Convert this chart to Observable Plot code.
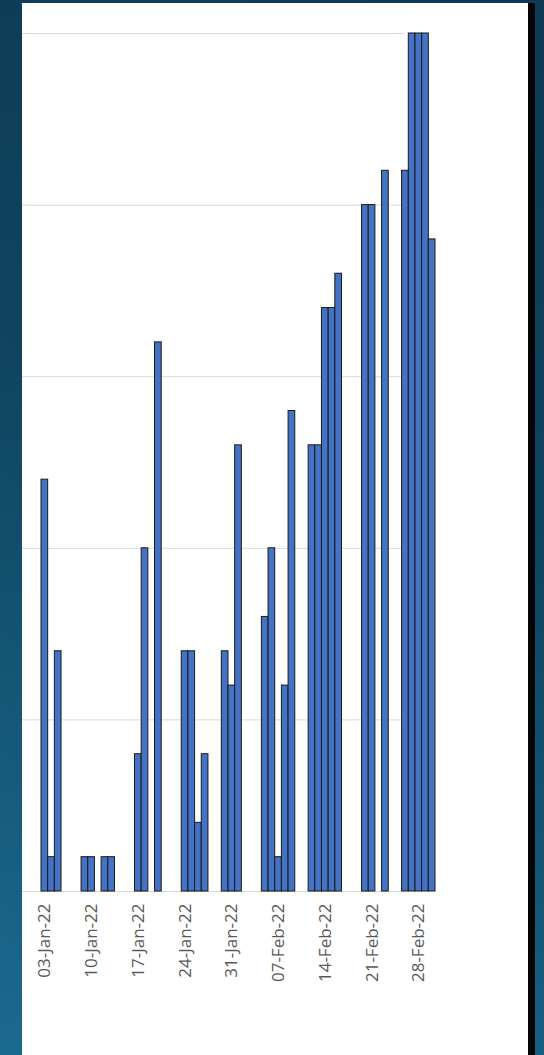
<!DOCTYPE html>
<html>
<head>
<meta charset="utf-8">
<script src="https://cdn.jsdelivr.net/npm/d3@7"></script>
<script src="https://cdn.jsdelivr.net/npm/@observablehq/plot@0.6"></script>
<style>
  html, body { margin: 0; padding: 0; }
  body {
    width: 544px; height: 1055px; overflow: hidden; position: relative;
    background: linear-gradient(200deg, #0d3a52 0%, #0f4560 45%, #1b6a90 100%);
  }
  #panel {
    position: absolute; left: 22px; top: 3px; width: 506px; height: 1052px;
    background: #ffffff;
  }
  #edge {
    position: absolute; left: 528px; top: 3px; width: 7px; height: 1052px;
    background: #050505;
  }
  #panel svg { display: block; }
</style>
</head>
<body>
<div id="panel"></div>
<div id="edge"></div>
<script>
// Dates that have a bar, and their counts
const barDates = ["03-Jan-22","04-Jan-22","05-Jan-22","09-Jan-22","10-Jan-22","12-Jan-22","13-Jan-22",
  "17-Jan-22","18-Jan-22","20-Jan-22","24-Jan-22","25-Jan-22","26-Jan-22","27-Jan-22",
  "30-Jan-22","31-Jan-22","01-Feb-22","05-Feb-22","06-Feb-22","07-Feb-22","08-Feb-22","09-Feb-22",
  "12-Feb-22","13-Feb-22","14-Feb-22","15-Feb-22","16-Feb-22","20-Feb-22","21-Feb-22","23-Feb-22",
  "26-Feb-22","27-Feb-22","28-Feb-22","01-Mar-22","02-Mar-22"];
const counts = [12,1,7,1,1,1,1,
  4,10,16,7,7,2,4,
  7,6,13,8,10,1,6,14,
  13,13,17,17,18,20,20,21,
  21,25,25,25,19];
// Weekly tick labels on the date axis
const weekLabels = ["03-Jan-22","10-Jan-22","17-Jan-22","24-Jan-22","31-Jan-22","07-Feb-22","14-Feb-22","21-Feb-22","28-Feb-22"];
// Gridline values
const gridValues = [0,5,10,15,20,25];

const fmt = d3.utcFormat("%d-%b-%y");
const allDays = d3.utcDay.range(new Date(Date.UTC(2022,0,3)), new Date(Date.UTC(2022,2,3))).map(fmt);

const rows = barDates.map((d, i) => ({date: d, count: counts[i]}));

const chart = Plot.plot({
  width: 506,
  height: 1047,
  marginTop: 30,
  marginBottom: 159,
  marginLeft: 0,
  marginRight: 124,
  style: {background: "transparent", fontFamily: "'Open Sans', sans-serif"},
  x: {type: "band", domain: allDays, range: [19, 413], padding: 0},
  y: {domain: [0, 25], axis: null},
  marks: [
    Plot.ruleY(gridValues, {stroke: "#d9d9d9", strokeWidth: 1}),
    Plot.barY(rows, {x: "date", y: "count", fill: "#4472c4", stroke: "#1a1a1a", strokeWidth: 1, inset: 0}),
    Plot.axisX(weekLabels, {
      tickRotate: -90, tickSize: 0, tickPadding: 12, fontSize: 17, fill: "#595959",
      label: null
    })
  ]
});
document.getElementById("panel").appendChild(chart);
</script>
</body>
</html>
